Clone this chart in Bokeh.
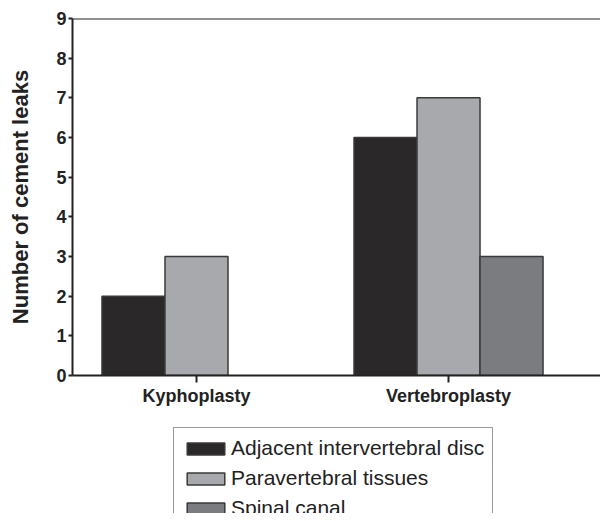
from bokeh.plotting import figure
from bokeh.layouts import column
from bokeh.models import FixedTicker, Span, Legend, LegendItem, ColumnDataSource, Range1d
from bokeh.embed import file_html
from bokeh.resources import INLINE

categories = ["Kyphoplasty", "Vertebroplasty"]
series_names = ["Adjacent intervertebral disc", "Paravertebral tissues", "Spinal canal"]
adjacent_disc = [2, 6]
paravertebral = [3, 7]
spinal_canal = [0, 3]
y_ticks = [0, 1, 2, 3, 4, 5, 6, 7, 8, 9]

series_values = [adjacent_disc, paravertebral, spinal_canal]
colors = ["#2a2829", "#a8a9ad", "#7b7c80"]
offsets = [-0.25, 0.0, 0.25]
bar_w = 0.25

FONT = "Liberation Sans"
H1 = 413
H2 = 100

p = figure(width=600, height=H1, output_backend="svg", toolbar_location=None,
           x_range=Range1d(0.508, 2.603), y_range=Range1d(0, 9),
           min_border_left=72, min_border_right=0, min_border_top=18, min_border_bottom=H1 - 375)
p.grid.visible = False
p.outline_line_color = None
p.background_fill_color = "white"
p.border_fill_color = "white"

cat_x = [i + 1 for i in range(len(categories))]
sources = []
for vals, col, off in zip(series_values, colors, offsets):
    xs = [c + off for c in cat_x]
    keep = [i for i, v in enumerate(vals) if v > 0]
    src = ColumnDataSource(dict(x=[xs[i] for i in keep], top=[vals[i] for i in keep]))
    sources.append(src)
    p.vbar(x="x", top="top", bottom=0, width=bar_w, source=src,
           fill_color=col, line_color="#3a3a3a", line_width=1.5)

p.add_layout(Span(location=9, dimension="width", line_color="#222222", line_width=2))

p.xaxis.ticker = FixedTicker(ticks=cat_x)
p.xaxis.major_label_overrides = {c: lab for c, lab in zip(cat_x, categories)}
p.yaxis.ticker = FixedTicker(ticks=y_ticks)
for ax in (p.xaxis, p.yaxis):
    ax.axis_line_color = "#222222"
    ax.axis_line_width = 2
    ax.major_tick_line_color = "#222222"
    ax.major_tick_line_width = 2
    ax.major_tick_in = 0
    ax.minor_tick_line_color = None
    ax.major_label_text_font = FONT
    ax.major_label_text_font_style = "bold"
    ax.major_label_text_color = "#222222"
p.xaxis.major_tick_out = 7
p.yaxis.major_tick_out = 4
p.xaxis.major_label_text_font_size = "18px"
p.yaxis.major_label_text_font_size = "18px"
p.yaxis.major_label_standoff = 2
p.xaxis.major_label_standoff = 3
p.yaxis.axis_label = "Number of cement leaks"
p.yaxis.axis_label_text_font = FONT
p.yaxis.axis_label_text_font_style = "bold"
p.yaxis.axis_label_text_font_size = "22px"
p.yaxis.axis_label_text_color = "#222222"
p.yaxis.axis_label_standoff = 20

# legend panel (same bar data, lying far outside this panel's visible ranges)
p2 = figure(width=600, height=H2, output_backend="svg", toolbar_location=None,
            x_range=Range1d(-101, -100), y_range=Range1d(50, 51),
            x_axis_location=None, y_axis_location=None,
            min_border=0, min_border_left=72, min_border_right=0, min_border_top=0, min_border_bottom=0)
p2.grid.visible = False
p2.outline_line_color = None
renderers = []
for src, col in zip(sources, colors):
    renderers.append(p2.vbar(x="x", top="top", bottom=0, width=bar_w, source=src,
                             fill_color=col, line_color="#3a3a3a", line_width=1.5))
items = [LegendItem(label=n, renderers=[r]) for n, r in zip(series_names, renderers)]
legend = Legend(items=items, location=(101, -16), orientation="vertical",
                label_text_font=FONT, label_text_font_size="21px", label_text_color="#222222",
                glyph_width=47, glyph_height=15, label_standoff=2, spacing=6,
                padding=8, margin=0, border_line_color="#333333", border_line_width=1.5,
                background_fill_alpha=1)
p2.add_layout(legend, "center")

layout = column(p, p2, spacing=0)
open("out.html", "w").write(file_html(layout, INLINE))
